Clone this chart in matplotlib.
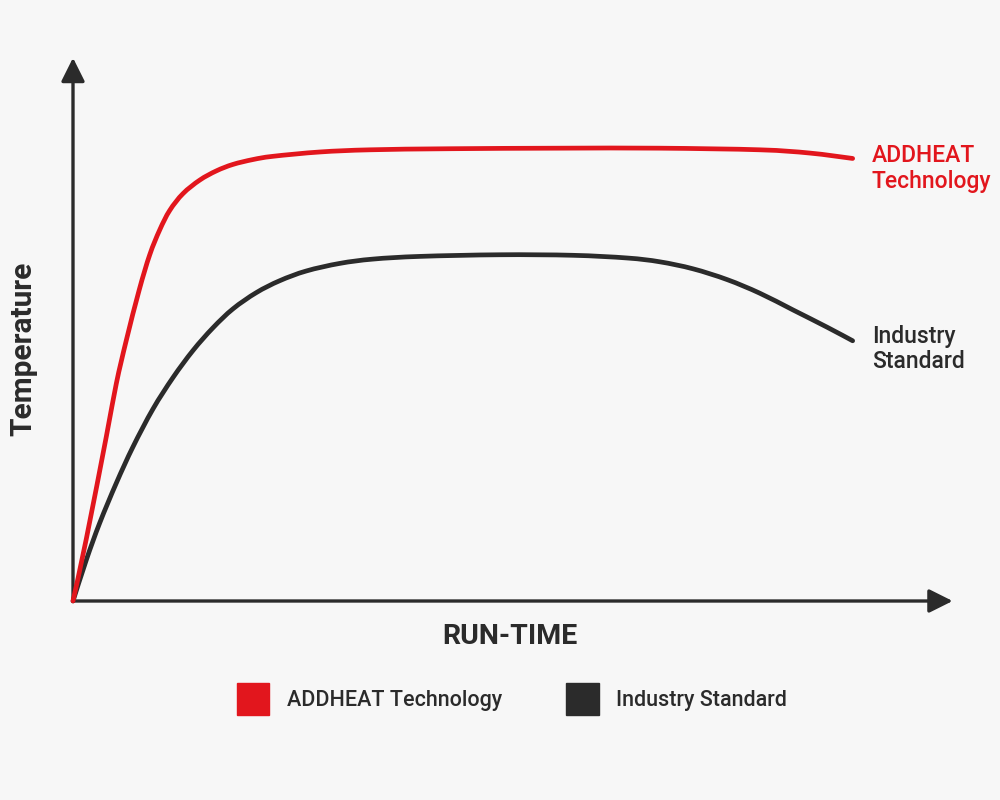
import matplotlib
matplotlib.use("Agg")
import matplotlib.pyplot as plt
import numpy as np
from matplotlib.patches import Patch, PathPatch
from matplotlib.path import Path

# ---- data ----
addheat_x = [0, 1.52, 3.80, 4.94, 6.08, 7.55, 8.75, 9.89, 11.03, 12.54, 14.45,
             16.34, 18.24, 20.52, 22.81, 28.16, 33.87, 43.0, 55.5, 66.9, 78.3,
             84.0, 88.9]
addheat_y = [0, 11.5, 30.4, 40.2, 48.2, 57.5, 64.0, 68.6, 72.2, 75.3, 77.8,
             79.5, 80.7, 81.6, 82.2, 83.0, 83.4, 83.6, 83.7, 83.7, 83.4,
             82.8, 81.8]

industry_x = [0, 1.52, 3.04, 4.94, 6.84, 9.12, 11.40, 13.68, 15.96, 18.24, 20.90,
              23.57, 26.60, 30.41, 34.21, 39.6, 48.7, 57.0, 63.2, 66.9, 70.7,
              74.6, 78.3, 82.1, 86.0, 88.9]
industry_y = [0, 7.6, 14.4, 21.8, 28.5, 35.5, 41.3, 46.3, 50.5, 54.0, 57.0,
              59.2, 61.0, 62.4, 63.2, 63.7, 64.0, 63.9, 63.4, 62.7, 61.4,
              59.4, 56.9, 53.8, 50.6, 48.1]

series_names = ["ADDHEAT Technology", "Industry Standard"]
end_labels = ["ADDHEAT\nTechnology", "Industry\nStandard"]
x_label = "RUN-TIME"
y_label = "Temperature"

RED = "#e2161d"
DARK = "#2b2b2b"
BG = "#f7f7f7"
FONT = ["Roboto", "DejaVu Sans"]

plt.rcParams["font.family"] = FONT


def smooth_path(xs, ys):
    """Catmull-Rom style cubic Bezier path through the given data points."""
    P = np.column_stack([xs, ys]).astype(float)
    n = len(P)
    verts = [P[0]]
    codes = [Path.MOVETO]
    for i in range(n - 1):
        p0 = P[i - 1] if i > 0 else P[i]
        p1 = P[i]
        p2 = P[i + 1]
        p3 = P[i + 2] if i + 2 < n else P[i + 1]
        c1 = p1 + (p2 - p0) / 6.0
        c2 = p2 - (p3 - p1) / 6.0
        verts += [c1, c2, p2]
        codes += [Path.CURVE4] * 3
    return Path(verts, codes)


fig = plt.figure(figsize=(10, 8), dpi=100, facecolor=BG)
ax = fig.add_axes([0.073, 0.24875, 0.877, 0.67625])
ax.set_facecolor(BG)
ax.set_xlim(0, 100)
ax.set_ylim(0, 100)
ax.axis("off")

# axes with arrows
arrow_kw = dict(arrowstyle="-|>,head_length=0.8,head_width=0.4", color=DARK, lw=2.4,
                shrinkA=0, shrinkB=0, mutation_scale=18)
ax.annotate("", xy=(100.3, 0), xytext=(0, 0), arrowprops=arrow_kw, annotation_clip=False)
ax.annotate("", xy=(0, 100.4), xytext=(0, 0), arrowprops=arrow_kw, annotation_clip=False)

# curves
for xs, ys, col, z in [(industry_x, industry_y, DARK, 3), (addheat_x, addheat_y, RED, 4)]:
    patch = PathPatch(smooth_path(xs, ys), facecolor="none", edgecolor=col, lw=3.4,
                      capstyle="round", joinstyle="round", clip_on=False, zorder=z)
    ax.add_patch(patch)

# end labels
ax.text(91.1, 79.9, end_labels[0], color=RED, fontsize=16.5, fontweight="medium",
        ha="left", va="center", linespacing=1.15, clip_on=False)
ax.text(91.1, 46.6, end_labels[1], color=DARK, fontsize=16.5, fontweight="medium",
        ha="left", va="center", linespacing=1.15, clip_on=False)

# axis titles
fig.text(0.510, 1 - 636 / 800, x_label, color=DARK, fontsize=20.5, fontweight="bold",
         ha="center", va="center")
fig.text(0.023, 1 - 349 / 800, y_label, color=DARK, fontsize=21.5, fontweight="bold",
         ha="center", va="center", rotation=90)

# legend
handles = [Patch(facecolor=RED, edgecolor=RED), Patch(facecolor=DARK, edgecolor=DARK)]
leg = fig.legend(handles, series_names, loc="center", bbox_to_anchor=(0.512, 1 - 699 / 800),
                 ncol=2, frameon=False, fontsize=15.5, handlelength=1.5, handleheight=1.9,
                 handletextpad=0.8, columnspacing=3.0)
for t in leg.get_texts():
    t.set_color(DARK)
    t.set_fontweight("medium")

fig.savefig("out.png", dpi=100, facecolor=BG)
